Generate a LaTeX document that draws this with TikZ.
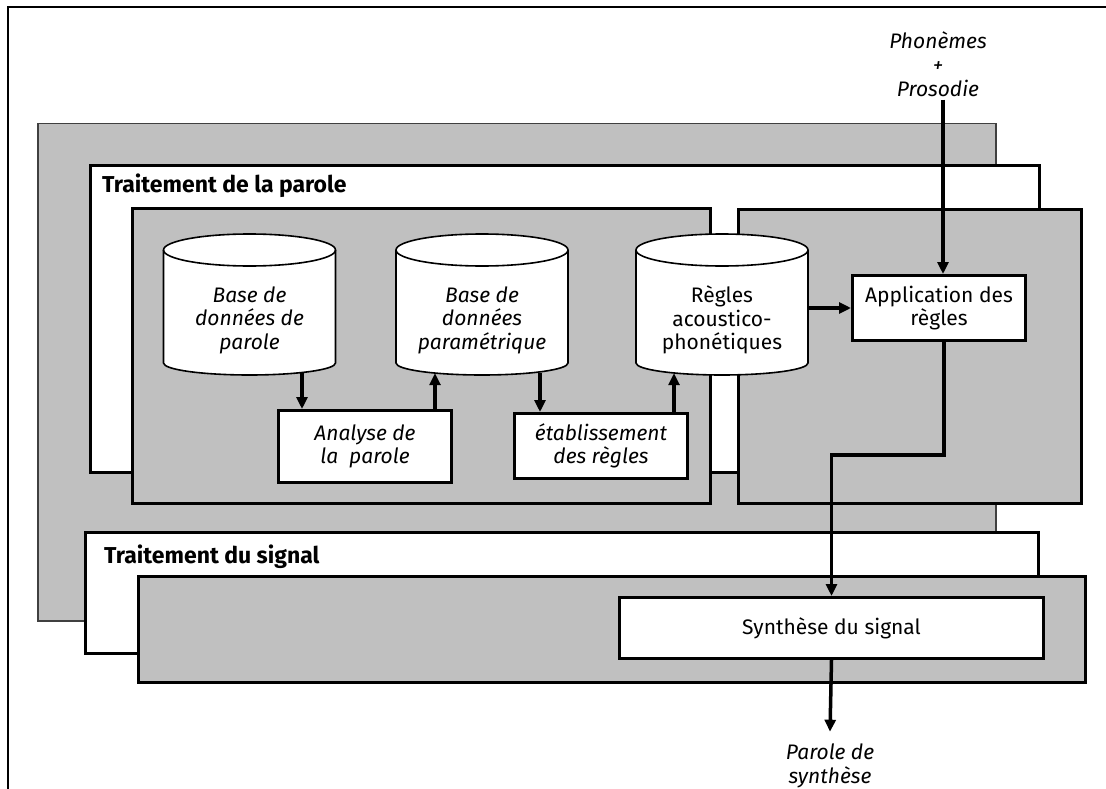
\documentclass[tikz,border=0pt]{standalone}
\usepackage{fontspec}
\setmainfont{Fira Sans}
\usetikzlibrary{arrows.meta,calc}

\definecolor{panelgray}{HTML}{C0C0C0}
\definecolor{rimgray}{HTML}{404040}

\tikzset{
  framebox/.style={draw=rimgray, line width=1.5pt, fill=panelgray},
  graypanel/.style={draw, line width=3pt, fill=panelgray},
  whitepanel/.style={draw, line width=3pt, fill=white},
  procbox/.style={draw, line width=3pt, fill=white, align=center, inner sep=0pt,
    font=\fontsize{21}{23.5}\selectfont},
  drumline/.style={draw, line width=1.6pt, fill=white},
  drumhull/.style={minimum width=172pt, minimum height=139pt, inner sep=0pt},
  lbl/.style={align=center, inner sep=0pt, font=\itshape\fontsize{21}{23.5}\selectfont},
  uplbl/.style={align=center, inner sep=0pt, font=\fontsize{21}{23.5}\selectfont},
  paneltitle/.style={inner sep=0pt, font=\bfseries\fontsize{23}{26}\selectfont},
  flow/.style={line width=3.5pt, -{Triangle[length=12pt,width=11pt]}},
}

% database drum: #1 name, #2 centre x, #3 label style, #4 text
\newcommand\dbdrum[4]{%
  \filldraw[drumline] ({#2-86},250) -- ({#2-86},363)
    arc[start angle=180, end angle=0, x radius=86, y radius=12]
    -- ({#2+86},250)
    arc[start angle=0, end angle=-180, x radius=86, y radius=16] -- cycle;
  \draw[drumline, fill=none] ({#2-86},250)
    arc[start angle=180, end angle=0, x radius=86, y radius=16];
  \node[drumhull] (#1) at (#2,303.5) {};
  \node[#3] (#1-text) at (#2,320) {#4};
}

\begin{document}
\begin{tikzpicture}[x=1pt, y=-1pt]
\useasboundingbox (0,0) rectangle (1106,789);

% page frame
\draw[line width=1.2pt] (8,789) -- (8,7) -- (1106,7);

% back panel
\node[framebox, anchor=north west, minimum width=958pt, minimum height=497pt] (back) at (37,123) {};

% speech processing layer
\node[whitepanel, anchor=north west, minimum width=949pt, minimum height=307pt] (parole) at (89,164) {};
\node[paneltitle, anchor=base west] (parole-title) at (102,193) {Traitement de la parole};
\node[graypanel, anchor=north west, minimum width=578pt, minimum height=295pt] (leftpanel) at (131,207) {};
\node[graypanel, anchor=north west, minimum width=343pt, minimum height=294pt] (rightpanel) at (737,208) {};

% signal processing layer
\node[whitepanel, anchor=north west, minimum width=953pt, minimum height=121pt] (signal) at (84,531) {};
\node[paneltitle, anchor=base west] (signal-title) at (104,563) {Traitement du signal};
\node[graypanel, anchor=north west, minimum width=947pt, minimum height=106pt] (lowpanel) at (137,575) {};

% databases
\dbdrum{parolebase}{249.5}{lbl}{Base de\\données de\\parole}
\dbdrum{parambase}{482}{lbl}{Base de\\données\\paramétrique}
\dbdrum{regles}{722}{uplbl}{Règles\\acoustico-\\phonétiques}

% processing steps
\node[procbox, anchor=north west, minimum width=173pt, minimum height=72pt,
      font=\itshape\fontsize{21}{23.5}\selectfont] (analyse) at (277,409) {Analyse de\\la\ \ parole};
\node[procbox, anchor=north west, minimum width=173pt, minimum height=65pt,
      font=\itshape\fontsize{21}{23.5}\selectfont] (etab) at (513,412) {établissement\\des règles};
\node[procbox, anchor=north west, minimum width=173pt, minimum height=65pt] (app) at (851,274) {Application des\\règles};
\node[procbox, anchor=north west, minimum width=424pt, minimum height=61pt] (synth) at (618,596) {Synthèse du signal};

% inputs and outputs
\node[lbl, font=\itshape\fontsize{21}{24}\selectfont] (inp) at (938,64) {Phonèmes\\+\\Prosodie};
\node[lbl, font=\itshape\fontsize{21}{24}\selectfont] (outp) at (830,766) {Parole de\\synthèse};

% connectors
\draw[flow] ([xshift=25pt]analyse.north west |- parolebase.south) -- ([xshift=25pt]analyse.north west);
\draw[flow] ([xshift=-18pt]analyse.north east) -- ([xshift=-18pt]analyse.north east |- parambase.south);
\draw[flow] ([xshift=27pt]etab.north west |- parambase.south) -- ([xshift=27pt]etab.north west);
\draw[flow] ([xshift=-15pt]etab.north east) -- ([xshift=-15pt]etab.north east |- regles.south);
\draw[flow] (regles.east |- app.west) -- (app.west);
\draw[flow] ([xshift=5pt,yshift=-3pt]inp.south) -- ([xshift=5pt]inp.south |- app.north);
\draw[flow] ([xshift=5pt]app.south) -- ++(0,113) -| (synth.north);
\draw[flow] (synth.south) -- ([yshift=12pt]outp.north);
\end{tikzpicture}
\end{document}
